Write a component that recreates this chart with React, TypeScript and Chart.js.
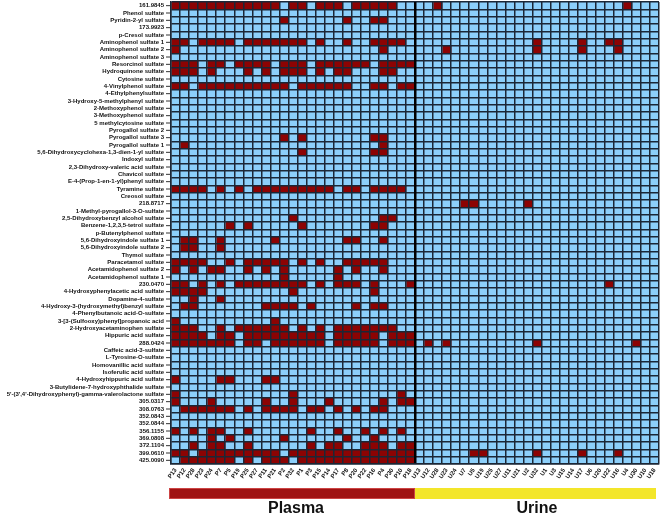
import React, { useEffect, useRef } from 'react';
import { Chart, registerables } from 'chart.js';
Chart.register(...registerables);

const compounds = [
  '161.9845', 'Phenol sulfate', 'Pyridin-2-yl sulfate', '173.9923', 'p-Cresol sulfate',
  'Aminophenol sulfate 1', 'Aminophenol sulfate 2', 'Aminophenol sulfate 3', 'Resorcinol sulfate', 'Hydroquinone sulfate',
  'Cytosine sulfate', '4-Vinylphenol sulfate', '4-Ethylphenylsulfate', '3-Hydroxy-5-methylphenyl sulfate', '2-Methoxyphenol sulfate',
  '3-Methoxyphenol sulfate', '5 methylcytosine sulfate', 'Pyrogallol sulfate 2', 'Pyrogallol sulfate 3', 'Pyrogallol sulfate 1',
  '5,6-Dihydroxycyclohexa-1,3-dien-1-yl sulfate', 'Indoxyl sulfate', '2,3-Dihydroxy-valeric acid sulfate', 'Chavicol sulfate', 'E-4-(Prop-1-en-1-yl)phenyl sulfate',
  'Tyramine sulfate', 'Creosol sulfate', '218.8717', '1-Methyl-pyrogallol-3-O-sulfate', '2,5-Dihydroxybenzyl alcohol sulfate',
  'Benzene-1,2,3,5-tetrol sulfate', 'p-Butenylphenol sulfate', '5,6-Dihydroxyindole sulfate 1', '5,6-Dihydroxyindole sulfate 2', 'Thymol sulfate',
  'Paracetamol sulfate', 'Acetamidophenol sulfate 2', 'Acetamidophenol sulfate 1', '230.0470', '4-Hydroxyphenylacetic acid sulfate',
  'Dopamine-4-sulfate', '4-Hydroxy-3-(hydroxymethyl)benzyl sulfate', '4-Phenylbutanoic acid-O-sulfate', '3-[3-(Sulfooxy)phenyl]propanoic acid', '2-Hydroxyacetaminophen sulfate',
  'Hippuric acid sulfate', '288.0424', 'Caffeic acid-3-sulfate', 'L-Tyrosine-O-sulfate', 'Homovanillic acid sulfate',
  'Isoferulic acid sulfate', '4-Hydroxyhippuric acid sulfate', '3-Butylidene-7-hydroxyphthalide sulfate', "5'-(3',4'-Dihydroxyphenyl)-gamma-valerolactone sulfate", '305.0317',
  '308.0763', '352.0843', '352.0844', '356.1155', '369.0808',
  '372.1104', '399.0610', '425.0090',
];

const plasmaSamples = ['P13', 'P12', 'P28', 'P23', 'P24', 'P7', 'P5', 'P19', 'P25', 'P27', 'P11', 'P21', 'P2', 'P32', 'P1', 'P3', 'P15', 'P14', 'P17', 'P8', 'P20', 'P22', 'P16', 'P4', 'P30', 'P10', 'P18'];
const urineSamples = ['U13', 'U12', 'U28', 'U23', 'U24', 'U7', 'U5', 'U19', 'U25', 'U27', 'U11', 'U21', 'U2', 'U32', 'U1', 'U3', 'U15', 'U14', 'U17', 'U6', 'U20', 'U22', 'U16', 'U4', 'U30', 'U10', 'U18'];

// detected (1-based sample positions) per compound, plasma
const plasmaHits: number[][] = [
  [1, 2, 3, 4, 5, 6, 7, 8, 9, 10, 11, 12, 14, 15, 17, 18, 19, 21, 22, 23, 24, 25],
  [],
  [13, 20, 23, 24],
  [],
  [],
  [1, 2, 4, 5, 6, 7, 9, 10, 11, 12, 13, 14, 15, 17, 20, 23, 24, 25, 26],
  [1, 24],
  [],
  [1, 2, 3, 5, 6, 8, 9, 10, 11, 13, 14, 15, 17, 18, 19, 20, 21, 22, 24, 25, 26, 27],
  [1, 2, 3, 5, 9, 11, 13, 14, 15, 17, 19, 20, 24, 25],
  [],
  [1, 2, 4, 5, 6, 7, 8, 9, 10, 11, 12, 13, 15, 16, 17, 18, 19, 20, 23, 24, 26, 27],
  [],
  [],
  [],
  [],
  [],
  [],
  [13, 15, 23, 24],
  [2, 24],
  [15, 23, 24],
  [],
  [],
  [],
  [],
  [1, 2, 3, 4, 6, 8, 10, 11, 12, 13, 14, 15, 16, 17, 18, 20, 21, 23, 24, 25, 26],
  [],
  [],
  [],
  [14, 24, 25],
  [7, 9, 15, 23, 24],
  [],
  [2, 3, 6, 12, 20, 21, 24],
  [2, 3, 6],
  [],
  [1, 2, 3, 4, 7, 9, 10, 11, 12, 13, 15, 17, 20, 21, 22, 23, 24],
  [1, 3, 5, 6, 9, 11, 13, 19, 21, 24],
  [13, 19],
  [1, 2, 4, 6, 8, 9, 10, 11, 12, 13, 14, 15, 17, 19, 20, 21, 23, 27],
  [1, 2, 3, 4, 14, 23],
  [3, 6],
  [2, 3, 11, 12, 13, 14, 16, 21, 23, 24],
  [],
  [1, 12],
  [1, 2, 3, 6, 8, 9, 10, 11, 12, 13, 15, 17, 19, 20, 21, 22, 23, 24, 25],
  [1, 2, 3, 4, 6, 7, 9, 10, 11, 12, 13, 14, 15, 16, 17, 19, 20, 21, 22, 23, 25, 26, 27],
  [1, 2, 3, 4, 5, 6, 7, 9, 10, 12, 13, 14, 15, 16, 17, 19, 20, 21, 22, 23, 25, 26, 27],
  [],
  [],
  [],
  [],
  [1, 6, 7, 11, 12],
  [],
  [1, 14, 26],
  [1, 5, 11, 14, 18, 24, 26, 27],
  [2, 3, 4, 5, 6, 7, 9, 11, 12, 13, 14, 16, 17, 19, 21, 23, 24],
  [],
  [],
  [1, 3, 5, 6, 9, 16, 19, 22, 24, 26],
  [5, 7, 13, 20, 23],
  [3, 5, 6, 9, 16, 18, 19, 22, 23, 24, 26, 27],
  [1, 2, 4, 5, 6, 7, 8, 9, 10, 11, 12, 14, 15, 16, 17, 18, 19, 20, 21, 22, 23, 24, 25, 26, 27],
  [2, 3, 4, 5, 6, 7, 9, 11, 12, 13, 15, 16, 17, 18, 19, 20, 21, 22, 23, 24, 25, 26, 27],
];

// detected per compound, urine (compound number -> positions)
const urineHitRows = [1, 6, 7, 28, 39, 47, 62];
const urineHitCols: number[][] = [
  [3, 24],
  [14, 19, 22, 23],
  [4, 14, 19, 23],
  [6, 7, 13],
  [22],
  [2, 4, 14, 25],
  [7, 8, 14, 19, 23],
];

const groupNames = ['Plasma', 'Urine'];

const RED = '#8c0303';
const BLUE = '#8ccffa';
const GRID = '#1b2736';

const samples = [...plasmaSamples, ...urineSamples];

function isHit(r: number, j: number): boolean {
  if (j < plasmaSamples.length) return plasmaHits[r].includes(j + 1);
  const k = urineHitRows.indexOf(r + 1);
  if (k < 0) return false;
  return urineHitCols[k].includes(j - plasmaSamples.length + 1);
}

const groupPlugin = {
  id: 'groupPlugin',
  afterDraw(chart: any) {
    const { ctx, chartArea, scales } = chart;
    const xs = scales.x;
    const ys = scales.y;
    ctx.save();
    ctx.strokeStyle = '#333';
    ctx.lineWidth = 1;
    for (let i = 0; i < compounds.length; i++) {
      const y = ys.getPixelForTick(i);
      ctx.beginPath();
      ctx.moveTo(chartArea.left - 5, y);
      ctx.lineTo(chartArea.left - 1, y);
      ctx.stroke();
    }
    const x0 = xs.getPixelForValue(0);
    const x1 = xs.getPixelForValue(plasmaSamples.length);
    const x2 = xs.getPixelForValue(samples.length);
    const top = chartArea.bottom + 24;
    const h = 11;
    ctx.fillStyle = '#a01212';
    ctx.fillRect(x0 - 2, top, x1 - x0 + 2, h);
    ctx.strokeStyle = '#c44';
    ctx.strokeRect(x0 - 1.5, top + 0.5, x1 - x0 + 1, h - 1);
    ctx.fillStyle = '#f3e62a';
    ctx.fillRect(x1, top, x2 - x1 - 3, h);
    ctx.fillStyle = '#111';
    ctx.font = 'bold 16px "Liberation Sans", Arial, sans-serif';
    ctx.textAlign = 'center';
    ctx.textBaseline = 'alphabetic';
    ctx.fillText(groupNames[0], (x0 + x1) / 2 + 3, chartArea.bottom + 49);
    ctx.fillText(groupNames[1], (x1 + x2) / 2, chartArea.bottom + 49);
    ctx.restore();
  },
};

export default function App() {
  const ref = useRef<HTMLCanvasElement>(null);
  useEffect(() => {
    if (!ref.current) return;
    Chart.defaults.font.family = '"Liberation Sans", Arial, Helvetica, sans-serif';
    const datasets = samples.map((s, j) => ({
      label: s,
      data: compounds.map(() => [j, j + 1]),
      backgroundColor: compounds.map((_, r) => (isHit(r, j) ? RED : BLUE)),
      borderWidth: 0,
      barPercentage: 1,
      categoryPercentage: 1,
      grouped: false,
    }));
    const chart = new Chart(ref.current, {
      type: 'bar',
      data: { labels: compounds, datasets },
      plugins: [groupPlugin],
      options: {
        indexAxis: 'y',
        animation: false,
        responsive: false,
        layout: { padding: { top: 2, right: 2, bottom: 29, left: 0 } },
        plugins: { legend: { display: false }, tooltip: { enabled: false } },
        scales: {
          y: {
            type: 'category',
            offset: true,
            grid: { offset: true, color: GRID, lineWidth: 1.5, drawTicks: false, z: 1 },
            border: { display: true, color: GRID, width: 1.5, z: 1 },
            ticks: { autoSkip: false, padding: 7, color: '#111', font: { size: 6, weight: 'bold' } },
            afterFit: (s: any) => { s.width = 171; s.paddingTop = 0; s.paddingBottom = 0; },
          },
          x: {
            type: 'linear',
            min: 0,
            max: samples.length,
            afterBuildTicks: (s: any) => {
              s.ticks = Array.from({ length: samples.length + 1 }, (_, i) => ({ value: i }));
            },
            grid: {
              color: (c: any) => (c.tick && c.tick.value === plasmaSamples.length ? '#000' : GRID),
              lineWidth: (c: any) => (c.tick && c.tick.value === plasmaSamples.length ? 2.5 : 1.5),
              drawTicks: false,
              z: 1,
            },
            border: { display: true, color: GRID, width: 1.5, z: 1 },
            ticks: {
              autoSkip: false,
              maxRotation: 55,
              minRotation: 55,
              labelOffset: 4.5,
              padding: 3,
              color: '#111',
              font: { size: 6, weight: 'bold' },
              callback: (v: any) => samples[v] ?? '',
            },
            afterFit: (s: any) => { s.height = 22; s.paddingLeft = 0; s.paddingRight = 0; },
          },
        },
      },
    } as any);
    return () => chart.destroy();
  }, []);
  return (
    <div style={{ position: 'absolute', left: 0, top: 0, width: 661, height: 515, background: '#fff' }}>
      <canvas ref={ref} width={661} height={515} style={{ display: 'block' }} />
    </div>
  );
}
